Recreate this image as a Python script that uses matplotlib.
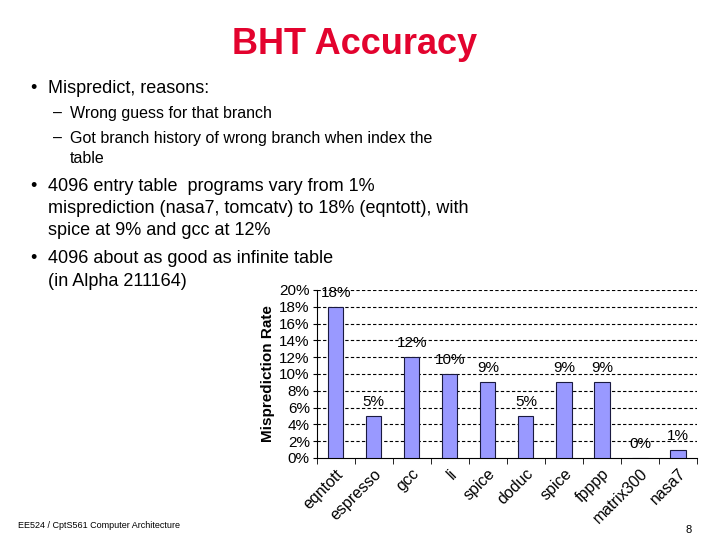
import numpy as np
import matplotlib.pyplot as plt
from matplotlib.ticker import PercentFormatter

plt.rcParams['font.family'] = ['Liberation Sans', 'DejaVu Sans']

# benchmark programs and misprediction rate (%)
programs = ['eqntott', 'espresso', 'gcc', 'li', 'spice', 'doduc', 'spice',
            'fpppp', 'matrix300', 'nasa7']
mispredict = [18, 5, 12, 10, 9, 5, 9, 9, 0, 1]
yticks = [0, 2, 4, 6, 8, 10, 12, 14, 16, 18, 20]

fig = plt.figure(figsize=(7.2, 5.4), dpi=100)

# slide text
fig.text(0.493, 0.917, 'BHT Accuracy', color='#E3032E', fontsize=26,
         fontweight='bold', ha='center', va='center')

lines = [
    (0.046, 0.067, 0.837, '•', 'Mispredict, reasons:', 13),
    (0.080, 0.097, 0.790, '–', 'Wrong guess for that branch', 11.5),
    (0.080, 0.097, 0.743, '–', 'Got branch history of wrong branch when index the', 11.5),
    (None, 0.097, 0.706, '', 'table', 11.5),
    (0.046, 0.067, 0.655, '•', '4096 entry table  programs vary from 1%', 13),
    (None, 0.067, 0.614, '', 'misprediction (nasa7, tomcatv) to 18% (eqntott), with', 13),
    (None, 0.067, 0.574, '', 'spice at 9% and gcc at 12%', 13),
    (0.046, 0.067, 0.522, '•', '4096 about as good as infinite table', 13),
    (None, 0.067, 0.478, '', '(in Alpha 211164)', 13),
]
for bx, tx, y, mark, txt, fs in lines:
    if bx is not None:
        fig.text(bx, y, mark, fontsize=fs, ha='center', va='center')
    fig.text(tx, y, txt, fontsize=fs, ha='left', va='center')

fig.text(0.025, 0.027, 'EE524 / CptS561 Computer Architecture', fontsize=6.5,
         ha='left', va='center')
fig.text(0.956, 0.018, '8', fontsize=8, ha='center', va='center')

# chart
ax = fig.add_axes([0.440, 0.152, 0.528, 0.311])
x = np.arange(len(programs))
ax.bar(x, mispredict, width=0.4, color='#9999FF', edgecolor='#1a1a40',
       linewidth=0.8, zorder=3)

for xi, v in zip(x, mispredict):
    ax.annotate(f'{v}%', (xi, v), xytext=(0, 5), textcoords='offset points',
                ha='center', va='bottom', fontsize=11, zorder=4)

ax.set_xlim(-0.5, len(programs) - 0.5)
ax.set_ylim(0, 20)
ax.set_yticks(yticks)
ax.yaxis.set_major_formatter(PercentFormatter(decimals=0))
ax.tick_params(axis='y', labelsize=11, length=3, pad=2)
for yv in yticks[1:]:
    ax.axhline(yv, color='black', linestyle=(0, (3, 2)), linewidth=0.8, zorder=1)

ax.set_xticks(x)
ax.set_xticklabels(programs, rotation=45, ha='right', rotation_mode='anchor',
                   fontsize=11.5)
ax.set_xticks(np.arange(-0.5, len(programs)), minor=True)
ax.tick_params(axis='x', which='major', length=0, pad=6)
ax.tick_params(axis='x', which='minor', length=4)

ax.set_ylabel('Misprediction Rate', fontsize=11, fontweight='bold', labelpad=3)

for side in ['top', 'right']:
    ax.spines[side].set_visible(False)
ax.spines['left'].set_linewidth(0.8)
ax.spines['bottom'].set_linewidth(0.8)

fig.savefig('out.png', dpi=100)
